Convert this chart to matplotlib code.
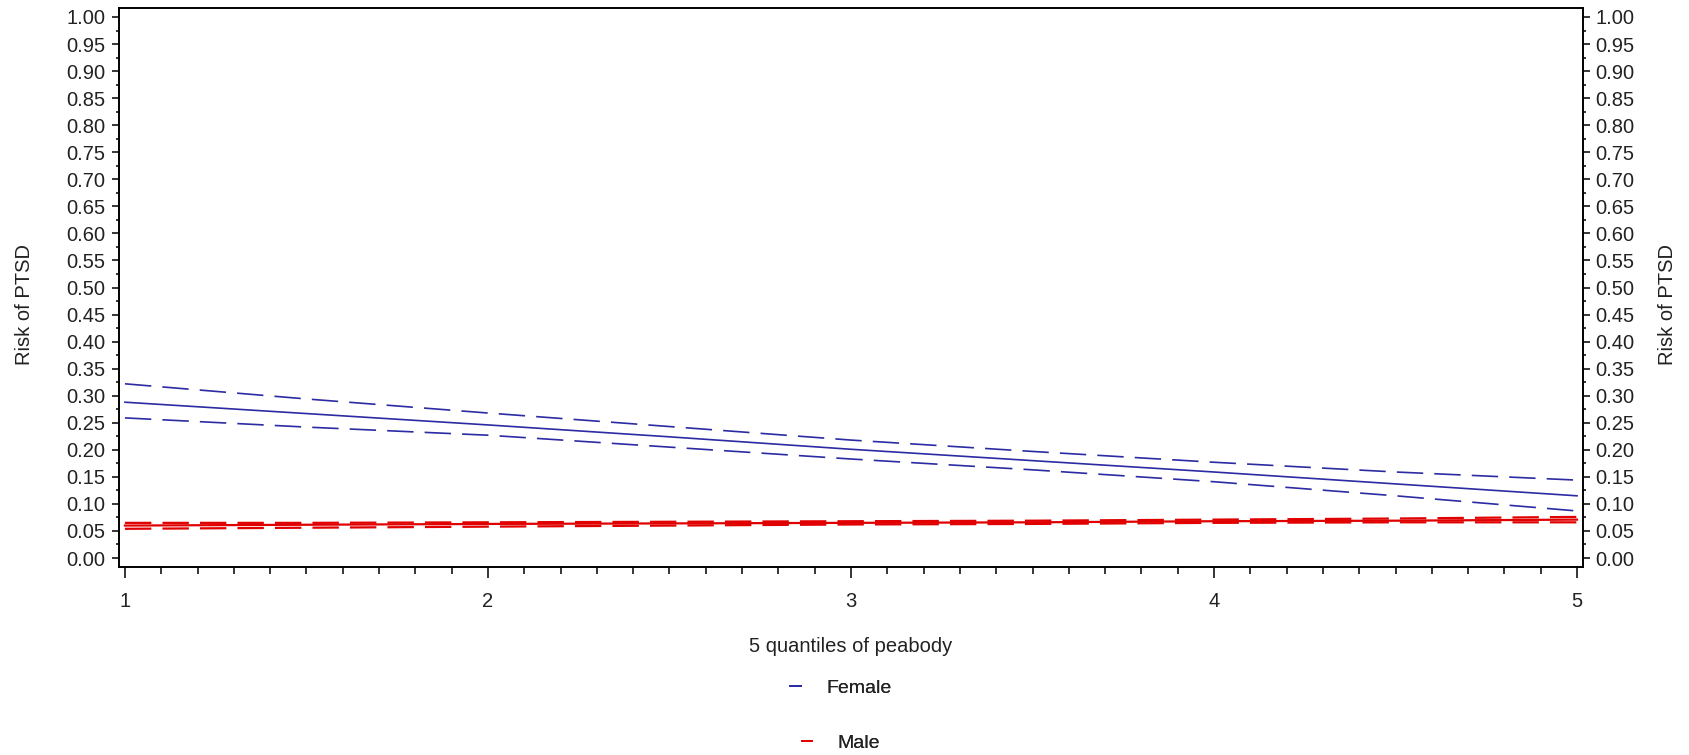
import matplotlib
matplotlib.use("Agg")
import matplotlib.pyplot as plt
from matplotlib.lines import Line2D
from matplotlib.ticker import MultipleLocator

plt.rcParams["font.family"] = ["Liberation Sans", "DejaVu Sans"]
plt.rcParams["lines.scale_dashes"] = False

# quantile positions and predicted risk
quantiles = [1, 1.5, 2, 2.5, 3, 3.5, 4, 4.5, 5]

female_mid = [0.288, 0.267, 0.246, 0.224, 0.201, 0.180, 0.159, 0.137, 0.115]
female_upper = [0.322, 0.294, 0.268, 0.243, 0.218, 0.197, 0.177, 0.159, 0.144]
female_lower = [0.259, 0.242, 0.227, 0.205, 0.183, 0.163, 0.141, 0.115, 0.087]

male_mid = [0.060, 0.0615, 0.063, 0.064, 0.065, 0.066, 0.068, 0.069, 0.071]
male_upper = [0.065, 0.065, 0.066, 0.067, 0.068, 0.069, 0.071, 0.073, 0.076]
male_lower = [0.054, 0.056, 0.058, 0.060, 0.062, 0.063, 0.065, 0.066, 0.066]

x_ticks = [1, 2, 3, 4, 5]
y_ticks = [i * 0.05 for i in range(21)]

BLUE = "#2b2ba3"
RED = "#e00000"
TEXT = "#222222"
DASH = (0, (19, 8))
FS = 14.5

fig = plt.figure(figsize=(16.9, 7.55), dpi=100)
ax = fig.add_axes([0.0704, 0.249, 0.8663, 0.7404])

ax.plot(quantiles, female_mid, color=BLUE, lw=1.2)
ax.plot(quantiles, female_upper, color=BLUE, lw=1.2, linestyle=DASH)
ax.plot(quantiles, female_lower, color=BLUE, lw=1.2, linestyle=DASH)

ax.plot(quantiles, male_mid, color=RED, lw=1.6)
ax.plot(quantiles, male_upper, color=RED, lw=1.6, linestyle=DASH)
ax.plot(quantiles, male_lower, color=RED, lw=1.6, linestyle=DASH)

ax.set_xlim(0.9835, 5.0165)
ax.set_ylim(-0.0166, 1.0166)
ax.set_xticks(x_ticks)
ax.set_xticklabels([str(v) for v in x_ticks])
ax.xaxis.set_minor_locator(MultipleLocator(0.1))
ax.set_yticks(y_ticks)
ax.set_yticklabels([f"{v:.2f}" for v in y_ticks])
ax.yaxis.set_minor_locator(MultipleLocator(0.025))

ax.tick_params(axis="x", which="major", length=8, width=1.1, pad=10,
               labelsize=FS, labelcolor=TEXT)
ax.tick_params(axis="x", which="minor", length=5, width=1.1)
ax.tick_params(axis="y", which="major", length=5, width=1.1, pad=5,
               labelsize=FS, labelcolor=TEXT)
ax.tick_params(axis="y", which="minor", length=2.5, width=1.1)
for s in ax.spines.values():
    s.set_linewidth(1.2)

ax.set_xlabel("5 quantiles of peabody", fontsize=FS, color=TEXT)
ax.xaxis.set_label_coords(0.5, -0.125)
ax.set_ylabel("Risk of PTSD", fontsize=FS, color=TEXT, va="center")
ax.yaxis.set_label_coords(-0.0645, 0.47)

ax2 = ax.twinx()
ax2.set_ylim(ax.get_ylim())
ax2.set_yticks(y_ticks)
ax2.set_yticklabels([f"{v:.2f}" for v in y_ticks])
ax2.yaxis.set_minor_locator(MultipleLocator(0.025))
ax2.tick_params(axis="y", which="major", length=5, width=1.1, pad=4,
                labelsize=FS, labelcolor=TEXT)
ax2.tick_params(axis="y", which="minor", length=2.5, width=1.1)
ax2.set_ylabel("Risk of PTSD", fontsize=FS, color=TEXT, rotation=90,
               va="center")
ax2.yaxis.set_label_coords(1.058, 0.47)
for s in ax2.spines.values():
    s.set_linewidth(1.2)

# legend rows, each centred on its own like the original
series_names = ["Female", "Male"]
series_colors = [BLUE, RED]
row_y = [1 - 688 / 755, 1 - 743 / 755]
for name, col, yy in zip(series_names, series_colors, row_y):
    h = Line2D([], [], color=col, lw=1.3)
    leg = fig.legend([h], [name], loc="center", bbox_to_anchor=(0.4975, yy),
                     frameon=False, fontsize=14, handlelength=0.55,
                     handletextpad=1.3, labelcolor=TEXT)
    fig.add_artist(leg)

fig.savefig("out.png", dpi=100, facecolor="white")
